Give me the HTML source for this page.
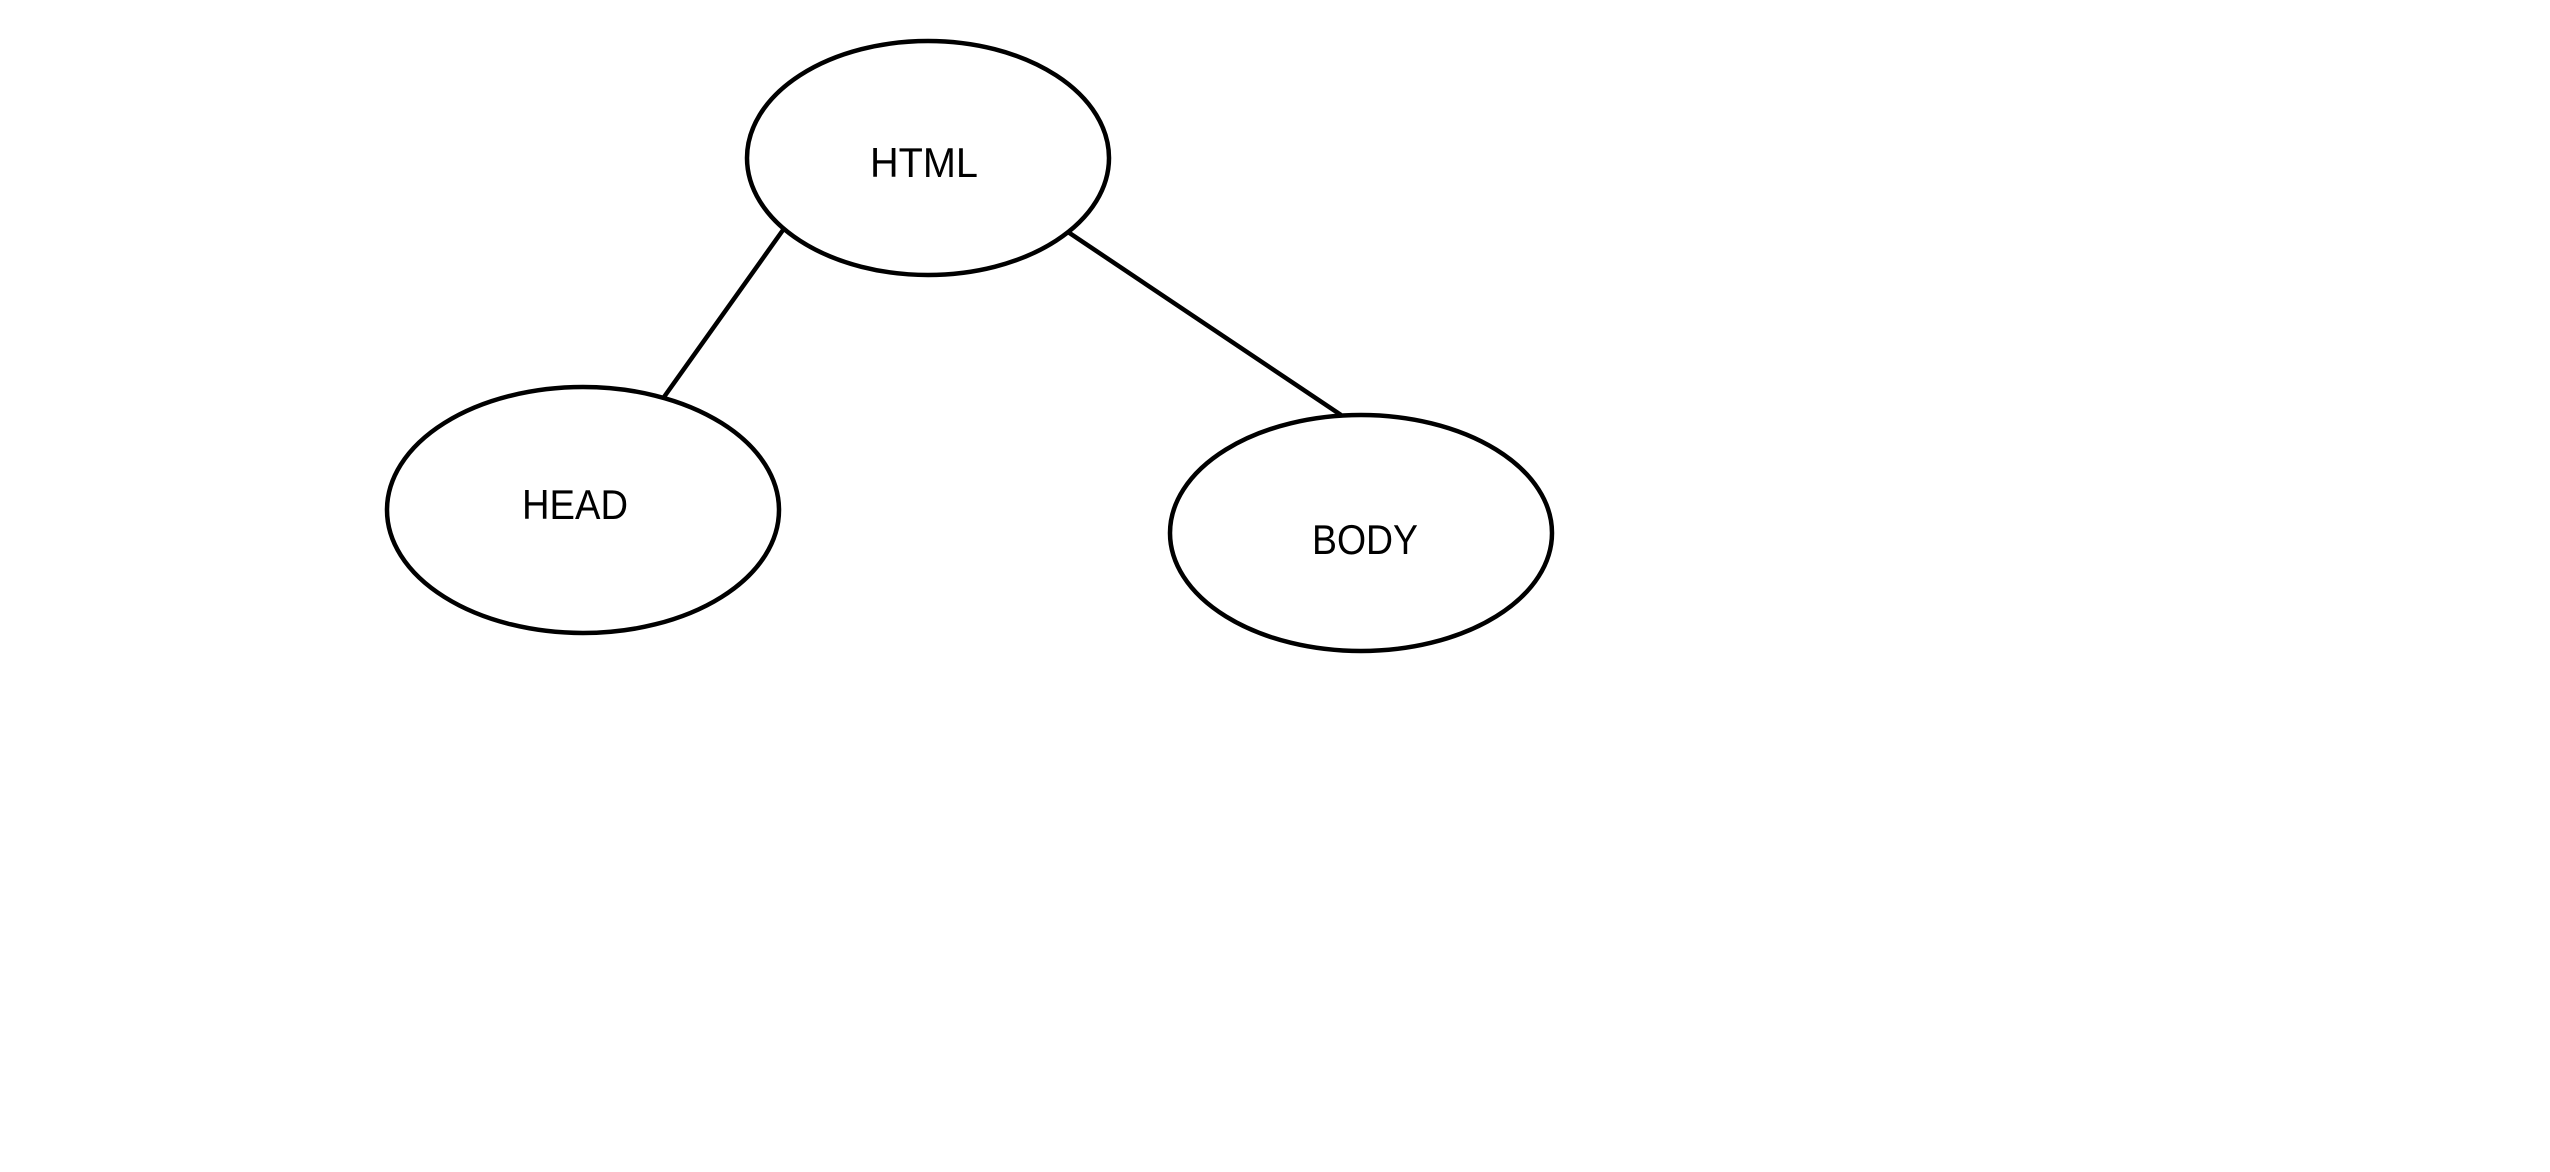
<!DOCTYPE html>
<html><head><meta charset="utf-8"><style>html,body{margin:0;padding:0;background:#fff;}svg{display:block}</style></head>
<body>
<svg width="2550" height="1172" viewBox="0 0 2550 1172" xmlns="http://www.w3.org/2000/svg">
<rect width="2550" height="1172" fill="#fff"/>
<g transform="translate(-5,-2)">
<g fill="none" stroke="#000" stroke-width="4.5">
<ellipse cx="933" cy="160" rx="181" ry="117"/>
<ellipse cx="588" cy="512" rx="196" ry="123"/>
<ellipse cx="1366" cy="535" rx="191" ry="118"/>
<line x1="788" y1="232" x2="669" y2="399"/>
<line x1="1073" y1="234" x2="1346" y2="417"/>
</g>
<g font-family="Liberation Sans, sans-serif" font-size="42" text-anchor="middle" fill="#000">
<text x="929" y="179" textLength="108" lengthAdjust="spacingAndGlyphs">HTML</text>
<text x="580" y="521" textLength="106" lengthAdjust="spacingAndGlyphs">HEAD</text>
<text x="1370" y="556" textLength="106" lengthAdjust="spacingAndGlyphs">BODY</text>
</g>
</g>
</svg>
</body></html>
